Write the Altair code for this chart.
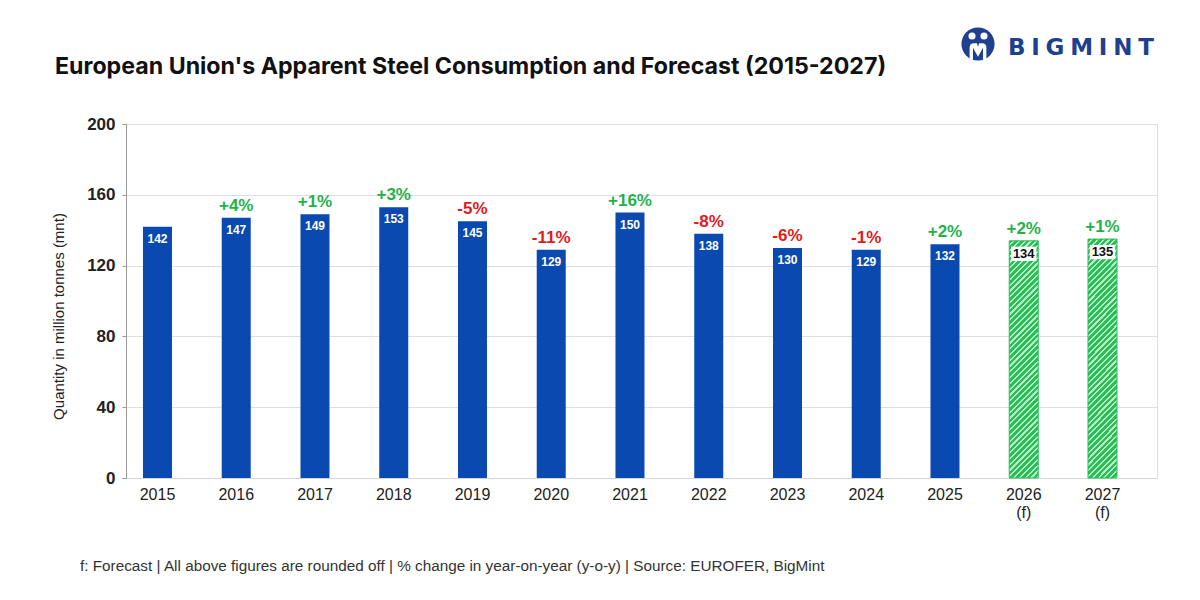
import altair as alt
import pandas as pd

years = ["2015", "2016", "2017", "2018", "2019", "2020", "2021",
         "2022", "2023", "2024", "2025", "2026", "2027"]
values = [142, 147, 149, 153, 145, 129, 150, 138, 130, 129, 132, 134, 135]
changes = ["", "+4%", "+1%", "+3%", "-5%", "-11%", "+16%",
           "-8%", "-6%", "-1%", "+2%", "+2%", "+1%"]
forecast = [False] * 11 + [True, True]

title_text = "European Union's Apparent Steel Consumption and Forecast (2015-2027)"
y_title = "Quantity in million tonnes (mnt)"
footnote = ("f: Forecast | All above figures are rounded off | "
            "% change in year-on-year (y-o-y) | Source: EUROFER, BigMint")
logo_text = "\u2005".join("BIGMINT")

df = pd.DataFrame({
    "year": years,
    "value": values,
    "change": changes,
    "forecast": forecast,
    "label": [str(v) for v in values],
    "sign": ["up" if c.startswith("+") else ("down" if c.startswith("-") else "none") for c in changes],
})

FONT = "Liberation Sans"
BLUE = "#0a49b0"
GREEN_TXT = "#1fb24a"
RED_TXT = "#e3191c"
HATCH = "#2abd58"
HATCH_LIGHT = "#b8ecc7"

# diagonal hatch via gradient stops
n_per = 50
frac = 0.62
stops = []
for k in range(n_per):
    a = k / n_per
    b = (k + frac) / n_per
    c = (k + 1) / n_per
    stops += [alt.GradientStop(offset=a, color=HATCH),
              alt.GradientStop(offset=b, color=HATCH),
              alt.GradientStop(offset=b, color=HATCH_LIGHT),
              alt.GradientStop(offset=min(c, 1.0), color=HATCH_LIGHT)]
hatch = alt.LinearGradient(gradient="linear", stops=stops,
                           x1=0, y1=0, x2=0.147, y2=1.2)

xscale = alt.Scale(paddingInner=0.632, paddingOuter=0.362, align=0.298)
x_enc = alt.X("year:N", scale=xscale, sort=years, title=None,
              axis=alt.Axis(labelAngle=0, labelFont=FONT, labelFontSize=16,
                            labelColor="#222222", labelPadding=8,
                            labelLineHeight=18, ticks=False,
                            domainColor="#d6d6d6",
                            labelExpr="(datum.value == '2026' || datum.value == '2027') ? [datum.value, '(f)'] : datum.value"))
y_enc = alt.Y("value:Q", scale=alt.Scale(domain=[0, 200]),
              axis=alt.Axis(values=[0, 40, 80, 120, 160, 200], title=y_title,
                            labelFont=FONT, labelFontSize=17, labelFontWeight="bold",
                            labelColor="#222222", labelPadding=7,
                            tickSize=4, tickColor="#999999",
                            domainColor="#999999", gridColor="#dedede",
                            titleFont=FONT, titleFontSize=15, titleFontWeight="normal",
                            titleColor="#222222", titleAngle=-90,
                            titleX=-68, titleY=192, titleAlign="center",
                            titleBaseline="middle"))

base = alt.Chart(df)

actual_bars = base.transform_filter("!datum.forecast").mark_bar(
    width=29, color=BLUE).encode(x=x_enc, y=y_enc)

fc_bars = base.transform_filter("datum.forecast").mark_bar(
    width=29, color=hatch, stroke=HATCH, strokeWidth=1).encode(x=x_enc, y=y_enc)

actual_labels = base.transform_filter("!datum.forecast").mark_text(
    font=FONT, fontSize=12, fontWeight="bold", color="white",
    baseline="middle", dy=12).encode(x=x_enc, y=y_enc, text="label:N")

box_path = "M-1,-0.56 L1,-0.56 L1,0.56 L-1,0.56 Z"
fc_boxes = base.transform_filter("datum.forecast").mark_point(
    shape=box_path, filled=True, color="white", opacity=1, size=650,
    yOffset=13).encode(x=x_enc, y=y_enc)

fc_labels = base.transform_filter("datum.forecast").mark_text(
    font=FONT, fontSize=13, fontWeight="bold", color="#111111",
    baseline="middle", dy=13).encode(x=x_enc, y=y_enc, text="label:N")

change_labels = base.transform_filter("datum.change != ''").mark_text(
    font=FONT, fontSize=17, fontWeight="bold", baseline="middle", dy=-12).encode(
    x=x_enc, y=y_enc, text="change:N",
    color=alt.Color("sign:N", scale=alt.Scale(domain=["up", "down"],
                                               range=[GREEN_TXT, RED_TXT]),
                    legend=None))

one = pd.DataFrame({"t": [title_text], "f": [footnote], "l": [logo_text]})
ann = alt.Chart(one)
title_mark = ann.mark_text(font="Inter", fontSize=23.2, fontWeight="bold", color="#111111",
                           align="left", baseline="middle").encode(
    x=alt.value(-71), y=alt.value(-57), text="t:N")
foot_mark = ann.mark_text(font=FONT, fontSize=15.3, color="#333333",
                          align="left", baseline="middle").encode(
    x=alt.value(-46), y=alt.value(442), text="f:N")
logo_mark = ann.mark_text(font="DejaVu Sans", fontSize=23, fontWeight="bold",
                          color="#1f3f8f", align="left", baseline="middle").encode(
    x=alt.value(882), y=alt.value(-76), text="l:N")
logo_circle = ann.mark_point(shape="circle", filled=True, color="#1f3f8f",
                             opacity=1, size=1100).encode(
    x=alt.value(852), y=alt.value(-80))
head_l = ann.mark_point(shape="circle", filled=True, color="white", opacity=1,
                        size=50).encode(x=alt.value(846), y=alt.value(-88))
head_r = ann.mark_point(shape="circle", filled=True, color="white", opacity=1,
                        size=50).encode(x=alt.value(858), y=alt.value(-88))
body_path = ("M-0.75,0.9 L-0.75,-0.2 Q-0.75,-0.6 -0.35,-0.6 L-0.1,-0.6 L0,-0.3 "
             "L0.1,-0.6 L0.35,-0.6 Q0.75,-0.6 0.75,-0.2 L0.75,0.9 L0.45,0.9 "
             "L0.45,-0.2 L0,0.6 L-0.45,-0.2 L-0.45,0.9 Z")
body = ann.mark_point(shape=body_path, filled=True, color="white", opacity=1,
                      size=500).encode(x=alt.value(852), y=alt.value(-74))

chart = alt.layer(
    actual_bars, fc_bars, actual_labels, fc_boxes, fc_labels, change_labels,
    title_mark, foot_mark, logo_circle, body, head_l, head_r, logo_mark
).properties(
    width=1031, height=354,
    autosize=alt.AutoSizeParams(type="none"),
    padding={"left": 118, "top": 116, "right": 35, "bottom": 110},
).configure_view(stroke=None).configure(background="white")

chart.save("out.html", embed_options={"renderer": "svg", "actions": False})
